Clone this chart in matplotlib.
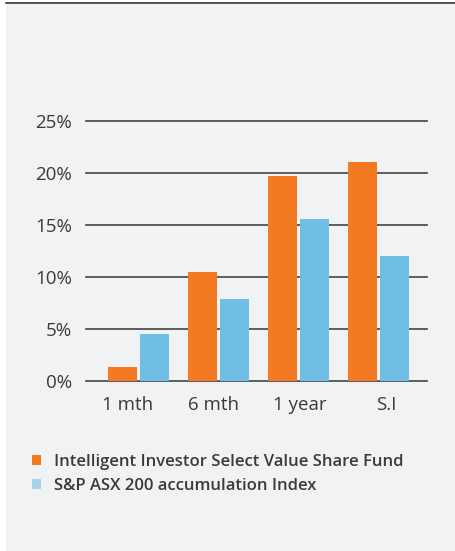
import matplotlib
matplotlib.use("Agg")
import matplotlib.pyplot as plt
from matplotlib.patches import Rectangle, Patch
import numpy as np

categories = ["1 mth", "6 mth", "1 year", "S.I"]
fund_values = [1.3, 10.5, 19.7, 21.1]
index_values = [4.5, 7.9, 15.6, 12.0]
y_ticks = [0, 5, 10, 15, 20, 25]
y_tick_labels = ["0%", "5%", "10%", "15%", "20%", "25%"]
series_names = ["Intelligent Investor Select Value Share Fund",
                "S&P ASX 200 accumulation Index"]

ORANGE = "#f47a21"
BLUE = "#71bee5"
BLUE_LEG = "#a5d2ef"
PANEL = "#f1f2f4"
TEXT = "#3a3a3a"

plt.rcParams['font.family'] = ['Open Sans', 'DejaVu Sans']

W, H = 455, 551
fig = plt.figure(figsize=(W / 100, H / 100), dpi=100)
fig.patch.set_facecolor("white")

# panel background and top rule
fig.patches.append(Rectangle((6 / W, -0.01), 1.0, 1.01 - 3.5 / H,
                             transform=fig.transFigure, facecolor=PANEL,
                             edgecolor="none", zorder=-5))
fig.add_artist(plt.Line2D([6 / W, 1], [1 - 3 / H, 1 - 3 / H],
                          transform=fig.transFigure, color="#333333", lw=1.2,
                          zorder=-4))

left, right = 86, 427
bottom, top = 380.7, 121.3
ax = fig.add_axes([left / W, (H - bottom) / H, (right - left) / W, (bottom - top) / H])
ax.set_facecolor("none")
ax.set_zorder(2)

x = np.arange(len(categories))
bw = 0.3625
b1 = ax.bar(x - 0.2, fund_values, bw, color=ORANGE, zorder=3)
b2 = ax.bar(x + 0.2, index_values, bw, color=BLUE, zorder=3)

ax.set_xlim(-0.656, 3.606)
ax.set_ylim(0, 25)
ax.set_yticks(y_ticks)
ax.set_yticklabels(y_tick_labels)
ax.set_xticks([-0.14 + i * 1.08 for i in range(len(categories))])
ax.set_xticklabels(categories)

ax.yaxis.grid(True, color="#444444", lw=1.2, zorder=1)
ax.set_axisbelow(True)
for gl in ax.get_ygridlines():
    gl.set_clip_on(False)
for s in ax.spines.values():
    s.set_visible(False)
ax.tick_params(axis="both", length=0, labelsize=13.5, colors=TEXT)
ax.tick_params(axis="y", pad=10)
ax.tick_params(axis="x", pad=11)

handles = [Patch(facecolor=ORANGE, edgecolor="none"),
           Patch(facecolor=BLUE_LEG, edgecolor="none")]
leg = fig.legend(handles, series_names, loc="upper left",
                 bbox_to_anchor=(32 / W, 1 - 454 / H), frameon=False,
                 handlelength=0.55, handleheight=0.55, handletextpad=0.8,
                 labelspacing=0.45, borderpad=0, borderaxespad=0,
                 prop={"size": 12, "weight": "semibold"}, labelcolor=TEXT)
leg.set_zorder(3)

fig.savefig("out.png", dpi=100, facecolor=fig.get_facecolor())
